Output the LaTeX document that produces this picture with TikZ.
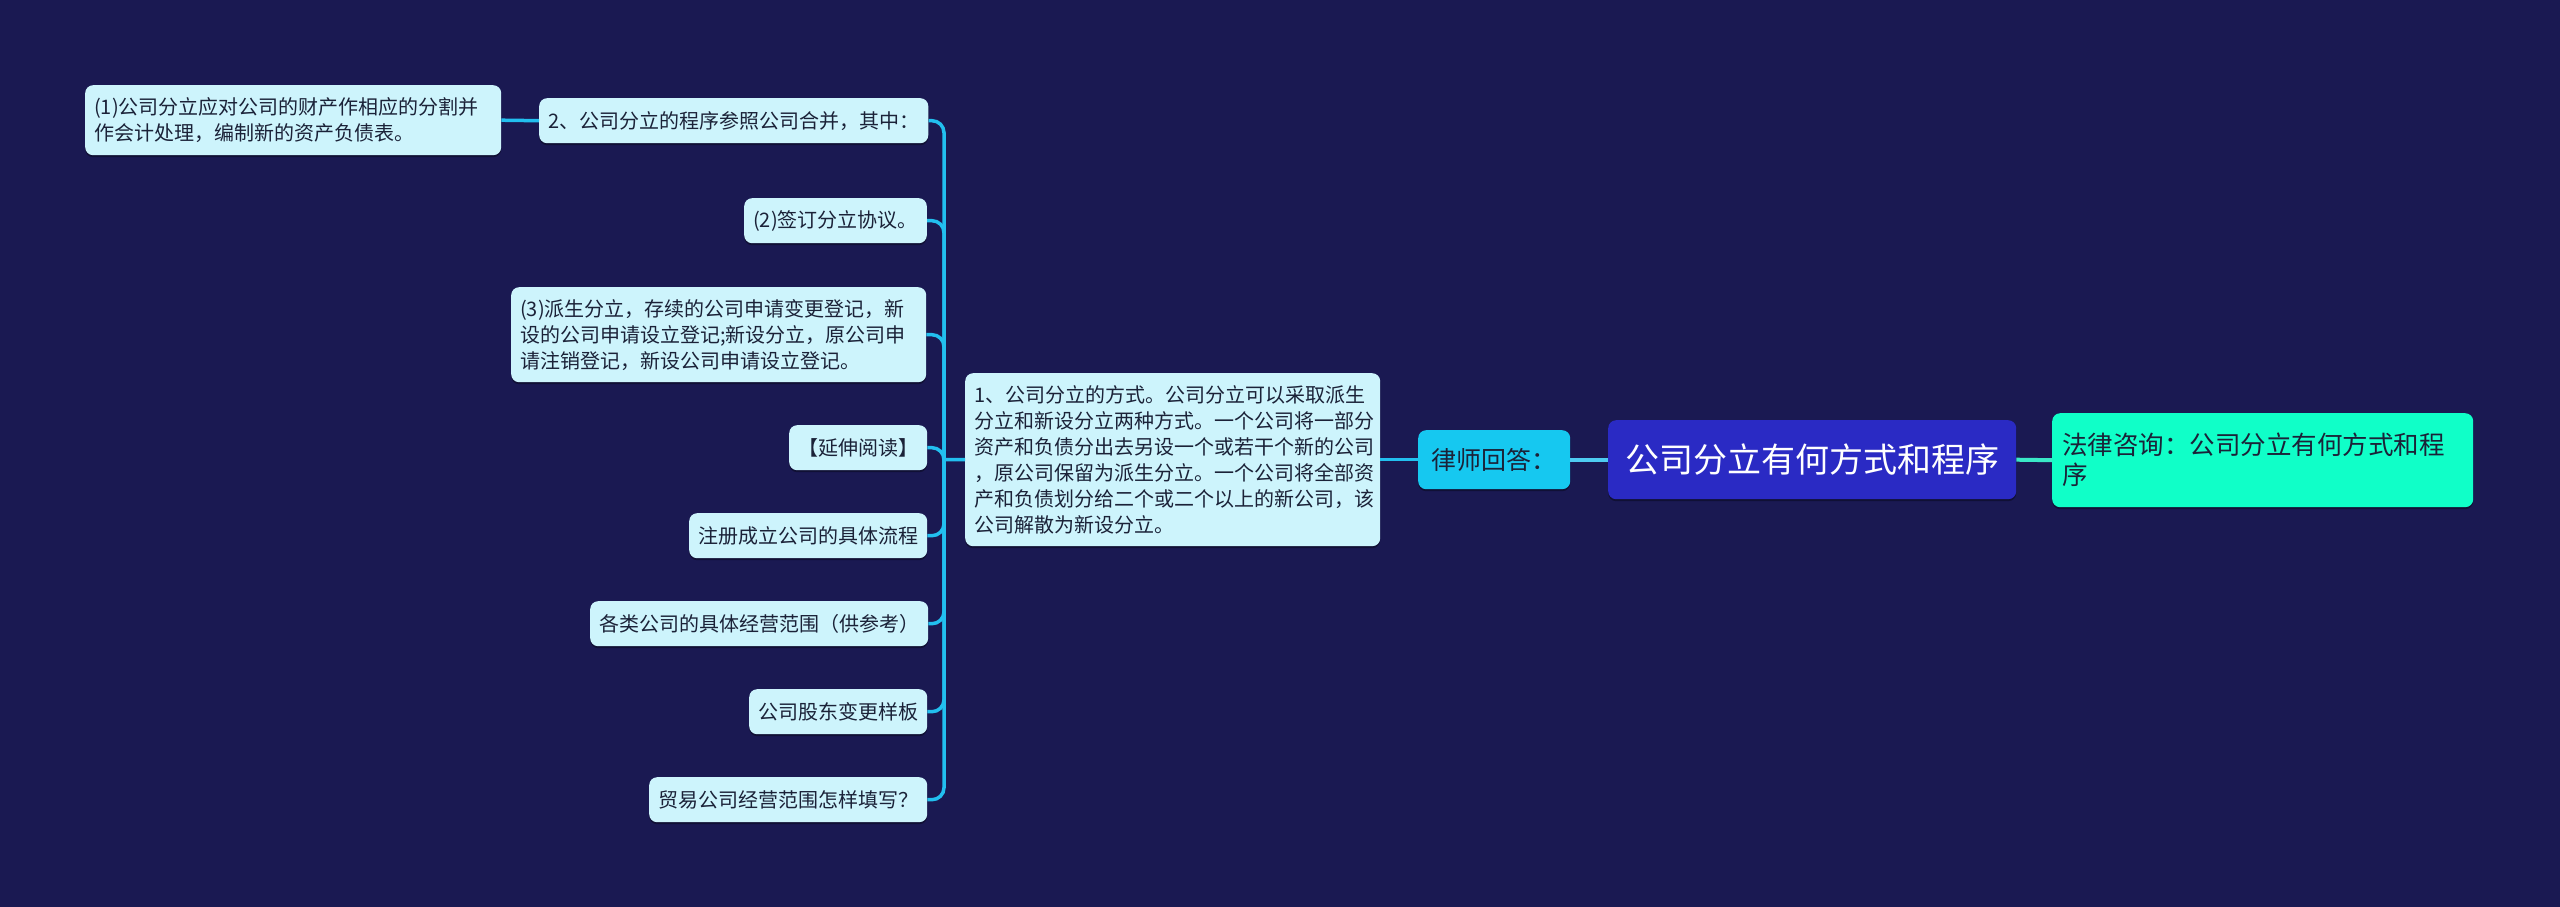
\documentclass[tikz,border=0pt]{standalone}
\usepackage{fontspec}
\setmainfont{Noto Sans CJK SC}
\usetikzlibrary{shadows}
\definecolor{bg}{HTML}{1A1952}
\definecolor{childfill}{HTML}{CDF4FC}
\definecolor{childtext}{HTML}{1B2238}
\definecolor{conn}{HTML}{22BFEF}
\definecolor{lawyer}{HTML}{16C8F0}
\definecolor{rootfill}{HTML}{2A2AC4}
\definecolor{qfill}{HTML}{10FFC8}
\definecolor{mint}{HTML}{3AE8C8}
\tikzset{
  child/.style={fill=childfill, rounded corners=8, text=childtext,
    font=\fontsize{20}{26}\selectfont, inner xsep=9, inner ysep=0,
    minimum height=45, anchor=north west,
    drop shadow={shadow xshift=0pt, shadow yshift=-2pt, fill=black, opacity=0.35}},
  conn/.style={draw=conn, line width=3.5, rounded corners=12},
}
\begin{document}
\begin{tikzpicture}[x=1pt,y=-1pt]
\fill[bg] (0,0) rectangle (2560,907);
\useasboundingbox (0,0) rectangle (2560,907);

% right part
\node[fill=rootfill, rounded corners=8, text=white, font=\fontsize{34}{40}\selectfont,
  minimum width=408, minimum height=79, inner sep=0, anchor=north west,
  drop shadow={shadow xshift=0pt, shadow yshift=-2pt, fill=black, opacity=0.35}] (R) at (1608,420) {公司分立有何方式和程序};
\node[fill=lawyer, rounded corners=8, text=childtext, font=\fontsize{25}{30}\selectfont,
  minimum width=152, minimum height=59, inner sep=0, anchor=north west,
  drop shadow={shadow xshift=0pt, shadow yshift=-2pt, fill=black, opacity=0.35}] (L) at (1418,430) {律师回答：};
\node[fill=qfill, rounded corners=8, text=childtext, font=\fontsize{25.5}{30}\selectfont,
  text width=401, align=left, inner xsep=10, inner ysep=0, minimum height=94, anchor=north west,
  drop shadow={shadow xshift=0pt, shadow yshift=-2pt, fill=black, opacity=0.35}] (Q) at (2052,413)
  {法律咨询：公司分立有何方式和程\\序};

\draw[draw=mint, line width=4] (R.east) -- (Q.west);
\draw[draw=conn!80!white, line width=4] (L.east) -- (R.west);

% main answer node
\node[child, text width=397, align=left, minimum height=173] (M) at (965,373)
  {1、公司分立的方式。公司分立可以采取派生\\分立和新设分立两种方式。一个公司将一部分\\资产和负债分出去另设一个或若干个新的公司\\，原公司保留为派生分立。一个公司将全部资\\产和负债划分给二个或二个以上的新公司，该\\公司解散为新设分立。};
\draw[draw=conn, line width=3.5] (M.east) -- (L.west);

% children
\node[child, minimum width=387] (B) at (539,98) {2、公司分立的程序参照公司合并，其中：};
\node[child, text width=398, align=left, minimum height=70] (A) at (85,85)
  {(1)公司分立应对公司的财产作相应的分割并\\作会计处理，编制新的资产负债表。};
\node[child, minimum width=182] (C) at (744,198) {(2)签订分立协议。};
\node[child, text width=397, align=left, minimum height=95] (D) at (511,287)
  {(3)派生分立，存续的公司申请变更登记，新\\设的公司申请设立登记;新设分立，原公司申\\请注销登记，新设公司申请设立登记。};
\node[child, minimum width=137] (E) at (789,425) {【延伸阅读】};
\node[child, minimum width=237] (F) at (689,513) {注册成立公司的具体流程};
\node[child, minimum width=337] (G) at (590,601) {各类公司的具体经营范围（供参考）};
\node[child, minimum width=178] (H) at (749,689) {公司股东变更样板};
\node[child, minimum width=278] (I) at (649,777) {贸易公司经营范围怎样填写？};

\coordinate (J) at (944,459.5);
\draw[conn] (M.west) -- (J);
\foreach \n in {B,C,D,E,F,G,H,I} {
  \draw[conn] (J) |- (\n.east);
}
\draw[conn] (A.east) -- (B.west);
\end{tikzpicture}
\end{document}
